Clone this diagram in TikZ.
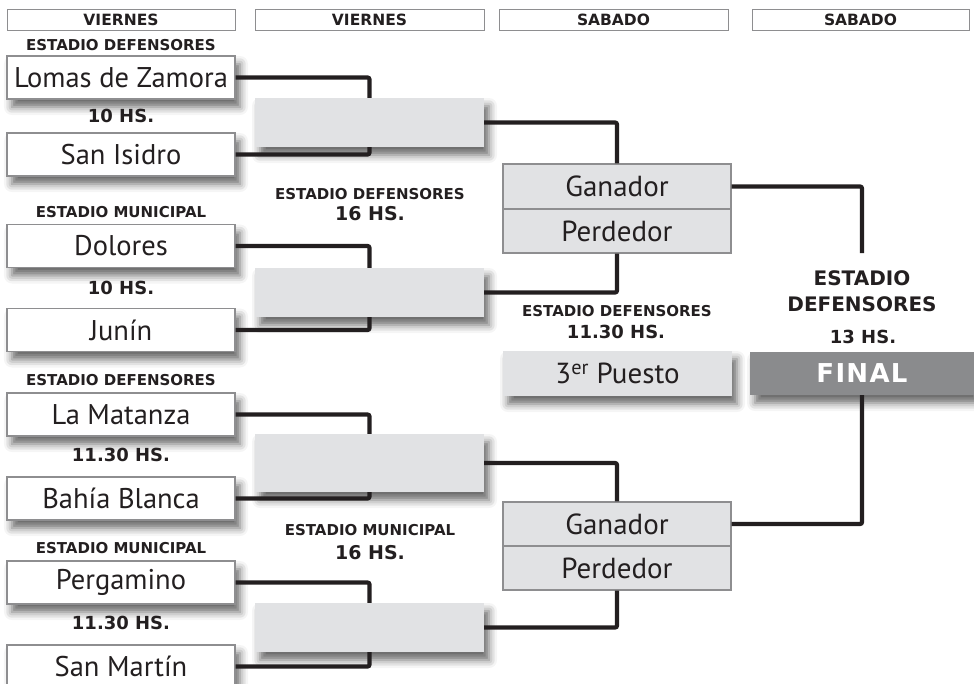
\documentclass[tikz,border=0pt]{standalone}
\usepackage{fontspec}
\setmainfont{PT Sans}
\newfontfamily\hdfont{DejaVu Sans}
\usetikzlibrary{shadows}
\usetikzlibrary{shadows.blur}
\usetikzlibrary{backgrounds}
\definecolor{ink}{HTML}{231F20}
\definecolor{rimgray}{HTML}{8E8E90}
\definecolor{boxgray}{HTML}{E1E2E4}
\definecolor{finalgray}{HTML}{8A8B8D}

\begin{document}
\begin{tikzpicture}[x=1pt, y=-1pt,
  soft/.style={blur shadow={shadow xshift=5pt, shadow yshift=-8pt, shadow blur radius=8pt, shadow opacity=60}},
  hd/.style={draw=rimgray, line width=0.8pt, minimum height=21pt, inner sep=0pt, text=ink, font=\hdfont\bfseries\fontsize{15.5}{16}\selectfont},
  lbl/.style={inner sep=0pt, text=ink, font=\hdfont\bfseries\fontsize{15}{15}\selectfont},
  hs/.style={inner sep=0pt, text=ink, font=\hdfont\bfseries\fontsize{18}{18}\selectfont},
  big/.style={inner sep=0pt, text=ink, font=\hdfont\bfseries\fontsize{20}{20}\selectfont},
  team/.style={soft, draw=rimgray, line width=1.2pt, fill=white, minimum width=228pt, minimum height=43pt, inner sep=0pt, text=ink, font=\fontsize{28.5}{28.5}\selectfont},
  blank/.style={soft, fill=boxgray, minimum width=229pt, inner sep=0pt, text=ink, font=\fontsize{29}{29}\selectfont},
  semi/.style={draw=rimgray, line width=1.2pt, fill=boxgray, minimum width=228pt, inner sep=0pt, text=ink, font=\fontsize{29}{29}\selectfont},
  link/.style={draw=ink, line width=4.2pt, rounded corners=2pt}]

 \useasboundingbox (0,0) rectangle (974,683);

 %headers
 \foreach \x/\w/\name/\day in {121/228/D1/VIERNES, 369.5/229/D2/VIERNES, 613.5/229/D3/SABADO, 860.5/217/D4/SABADO} {
         \node[hd, minimum width=\w pt] (\name) at (\x, 19.5) {\day};
 }

 %level 1
 \foreach \y/\name/\team in {77.5/T1/Lomas de Zamora, 154.5/T2/San Isidro, 246/T3/Dolores, 330/T4/Junín,
                             414.5/T5/La Matanza, 498.5/T6/Bahía Blanca, 582.5/T7/Pergamino, 666.5/T8/San Martín} {
         \node[team] (\name) at (121, \y) {\team};
 }

 \foreach \y/\name/\txt in {45/E1/ESTADIO DEFENSORES, 212/E2/ESTADIO MUNICIPAL, 380/E3/ESTADIO DEFENSORES, 548/E4/ESTADIO MUNICIPAL} {
         \node[lbl] (\name) at (121, \y) {\txt};
 }
 \foreach \y/\name/\txt in {116/H1/10 HS., 288/H2/10 HS., 455/H3/11.30 HS., 623/H4/11.30 HS.} {
         \node[hs] (\name) at (121, \y) {\txt};
 }

 %level 2
 \foreach \y/\h/\name in {122.5/49/R1, 292.5/49/R2, 463/58/R3, 627.5/49/R4} {
         \node[blank, minimum height=\h pt] (R\name) at (369.5, \y) {};
 }

 \node[lbl] (E5) at (370, 194) {ESTADIO DEFENSORES};
 \node[hs, font=\hdfont\bfseries\fontsize{19}{19}\selectfont] (H5) at (370, 214) {16 HS.};
 \node[lbl] (E6) at (370, 530) {ESTADIO MUNICIPAL};
 \node[hs, font=\hdfont\bfseries\fontsize{19}{19}\selectfont] (H6) at (370, 553) {16 HS.};

 \draw[link] (T1.east) -| (RR1.north);
 \draw[link] (T2.east) -| (RR1.south);
 \draw[link] (T3.east) -| (RR2.north);
 \draw[link] (T4.east) -| (RR2.south);
 \draw[link] (T5.east) -| (RR3.north);
 \draw[link] (T6.east) -| (RR3.south);
 \draw[link] (T7.east) -| (RR4.north);
 \draw[link] (T8.east) -| (RR4.south);

 %level 3
 \node[semi, minimum height=45pt] (G1) at (617, 186.5) {Ganador};
 \node[semi, minimum height=44pt] (P1) at (617, 231) {Perdedor};
 \node[semi, minimum height=44pt] (G2) at (617, 524) {Ganador};
 \node[semi, minimum height=44pt] (P2) at (617, 568) {Perdedor};

 \begin{scope}[on background layer]
   \path[soft, fill=white] (G1.north west) rectangle (P1.south east);
   \path[soft, fill=white] (G2.north west) rectangle (P2.south east);
 \end{scope}

 \draw[link] (RR1.east) -| (G1.north);
 \draw[link] (RR2.east) -| (P1.south);
 \draw[link] (RR3.east) -| (G2.north);
 \draw[link] (RR4.east) -| (P2.south);

 \node[lbl] (E7) at (617, 311) {ESTADIO DEFENSORES};
 \node[hs] (H7) at (616, 332) {11.30 HS.};
 \node[blank, minimum height=45pt] (TP) at (617.5, 373.5) {3\textsuperscript{er} Puesto};

 %final
 \node[soft, fill=finalgray, minimum width=224pt, minimum height=43pt, inner sep=0pt, text=white,
       font=\hdfont\bfseries\fontsize{26}{26}\selectfont\addfontfeature{LetterSpace=5}] (FIN) at (862, 373.5) {FINAL};

 \node[big] (E8) at (862, 278) {ESTADIO};
 \node[big] (E9) at (862, 304) {DEFENSORES};
 \node[hs] (H8) at (863, 337) {13 HS.};

 \coordinate (F0) at (862, 253);
 \draw[link] (G1.east) -| (F0);
 \draw[link] (G2.east) -| (FIN.south);

\end{tikzpicture}
\end{document}
